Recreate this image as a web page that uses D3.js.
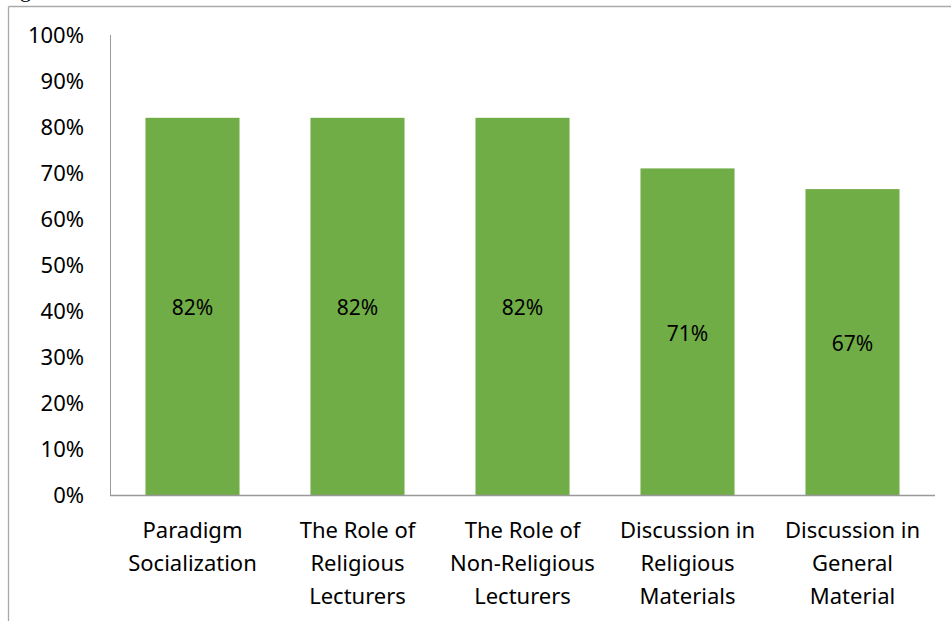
<!DOCTYPE html>
<html><head><meta charset="utf-8">
<script src="https://cdn.jsdelivr.net/npm/d3@7"></script>
<style>body{margin:0;background:#fff}svg{display:block}</style>
</head><body>
<script>
const categories = [
  ["Paradigm","Socialization"],
  ["The Role of","Religious","Lecturers"],
  ["The Role of","Non-Religious","Lecturers"],
  ["Discussion in","Religious","Materials"],
  ["Discussion in","General","Material"]
];
const values = [0.82, 0.82, 0.82, 0.71, 0.665];
const yTicks = [0,0.1,0.2,0.3,0.4,0.5,0.6,0.7,0.8,0.9,1.0];

const W=951,H=621;
const svg=d3.select("body").append("svg").attr("width",W).attr("height",H);
const font="'Noto Sans', sans-serif";

// frame fragments
svg.append("line").attr("x1",8.5).attr("x2",W).attr("y1",6.5).attr("y2",6.5).attr("stroke","#aaa").attr("stroke-width",1.3);
svg.append("line").attr("x1",8.5).attr("x2",8.5).attr("y1",6.5).attr("y2",H).attr("stroke","#aaa").attr("stroke-width",1.3);
svg.append("text").attr("x",20).attr("y",-3).attr("font-family","'Liberation Serif', serif").attr("font-size",22).text("g");

const x=d3.scaleBand().domain(d3.range(values.length)).range([110,935]).paddingInner(0.43).paddingOuter(0.215);
const y=d3.scaleLinear().domain([0,1]).range([495,35]);

svg.append("g").selectAll("rect").data(values).join("rect")
  .attr("x",(d,i)=>x(i)).attr("width",x.bandwidth())
  .attr("y",d=>y(d)).attr("height",d=>y(0)-y(d)).attr("fill","#70AD47");

// axes
svg.append("line").attr("x1",110.5).attr("x2",110.5).attr("y1",35).attr("y2",495).attr("stroke","#999").attr("stroke-width",1);
svg.append("line").attr("x1",110).attr("x2",935).attr("y1",495.5).attr("y2",495.5).attr("stroke","#999").attr("stroke-width",1.3);

const fmt=d3.format(".0%");
svg.append("g").selectAll("text").data(yTicks).join("text")
  .attr("x",84).attr("y",d=>y(d)).attr("dy","0.38em").attr("text-anchor","end")
  .attr("font-family",font).attr("font-size",22).attr("fill","#000").text(d=>fmt(d));

// value labels
svg.append("g").selectAll("text").data(values).join("text")
  .attr("x",(d,i)=>x(i)+x.bandwidth()/2).attr("y",d=>(y(d)+y(0))/2).attr("dy","0.42em")
  .attr("text-anchor","middle").attr("font-family",font).attr("font-size",21).attr("fill","#000")
  .text(d=>Math.round(d*100)+"%");

// category labels
const cg=svg.append("g").selectAll("text").data(categories).join("text")
  .attr("x",(d,i)=>x(i)+x.bandwidth()/2).attr("y",538)
  .attr("text-anchor","middle").attr("font-family",font).attr("font-size",22).attr("fill","#000");
cg.selectAll("tspan").data(d=>d).join("tspan")
  .attr("x",function(){return this.parentNode.getAttribute("x");})
  .attr("y",(d,j)=>538+j*33).text(d=>d);
</script>
</body></html>
